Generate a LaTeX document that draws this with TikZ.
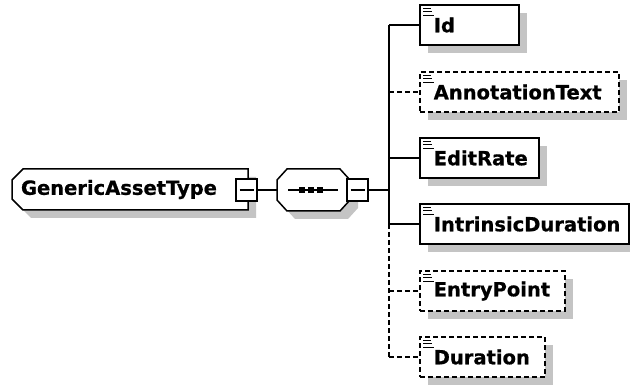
\documentclass[tikz,border=0pt]{standalone}
\usepackage{fontspec}
\setmainfont{DejaVu Sans}[BoldFeatures={FakeBold=0.8}]
\usetikzlibrary{calc,shadows}
\definecolor{shadowgray}{RGB}{196,196,196}
\tikzset{
  lbl/.style={font=\bfseries\fontsize{19.5}{22}\selectfont},
  outline/.style={draw=black, line width=1.5pt},
  elem/.style={outline, fill=white, anchor=west, minimum height=40pt,
    inner xsep=0pt, inner ysep=0pt, text width=#1pt, align=left, lbl,
    copy shadow={shadow xshift=8pt, shadow yshift=-8pt, fill=shadowgray, draw=none}},
  optbox/.style={elem=#1, dash pattern=on 5pt off 3pt},
  minusbox/.style={outline, fill=white, minimum width=21pt, minimum height=22pt, inner sep=0pt,
    path picture={\draw[line width=1.5pt] ([xshift=3.5pt]path picture bounding box.west) -- ([xshift=-3.5pt]path picture bounding box.east);}},
  conn/.style={line width=1.5pt},
  optconn/.style={conn, dash pattern=on 5pt off 3pt},
}
\newcommand\elicon[1]{%
  \draw[line width=1.3pt] ([shift={(4,4)}]#1.north west) -- +(8,0)
    ([shift={(4,7.5)}]#1.north west) -- +(9,0)
    ([shift={(4,11)}]#1.north west) -- +(11,0);}
\begin{document}
\begin{tikzpicture}[x=1pt, y=-1pt]
\useasboundingbox[fill=white] (0,0) rectangle (630,385);
% GenericAssetType shape
\fill[shadowgray] (31,177) -- (256,177) -- (256,218) -- (31,218) -- (20,207) -- (20,188) -- cycle;
\draw[outline, fill=white] (23,169) -- (248,169) -- (248,210) -- (23,210) -- (12,199) -- (12,180) -- cycle;
\node[lbl, inner sep=0pt, text width=236pt, align=left, minimum height=41pt] (gat) at (130,189.5) {\hspace*{9pt}GenericAssetType};
% sequence shape
\fill[shadowgray] (295,177) -- (348,177) -- (358,188) -- (358,208) -- (348,219) -- (295,219) -- (285,208) -- (285,188) -- cycle;
\draw[outline, fill=white] (287,169) -- (340,169) -- (350,180) -- (350,200) -- (340,211) -- (287,211) -- (277,200) -- (277,180) -- cycle;
\node[minimum width=73pt, minimum height=42pt, inner sep=0pt] (seq) at (313.5,190) {};
\draw[conn] (288,190) -- (338,190);
\foreach \cx in {302,311,320} \fill (\cx-3,187) rectangle (\cx+3,193);
% minus boxes
\node[minusbox] (m1) at (246.5,190) {};
\node[minusbox] (m2) at (357.5,190) {};
\coordinate (bus) at (389,190);
\draw[conn] (m1.east) -- (seq.west);
\draw[conn] (m2.east) -- (bus);
% elements
\node[elem=99] (id) at (419,25) {\hspace*{14pt}Id};
\node[optbox=199] (annot) at (419,92) {\hspace*{14pt}AnnotationText};
\node[elem=119] (edit) at (419,158) {\hspace*{14pt}EditRate};
\node[elem=209] (intr) at (419,224) {\hspace*{14pt}IntrinsicDuration};
\node[optbox=145] (entry) at (419,291) {\hspace*{14pt}EntryPoint};
\node[optbox=125] (dur) at (419,357) {\hspace*{14pt}Duration};
\foreach \n in {id,annot,edit,intr,entry,dur} {\elicon{\n}}
% bus and connectors
\draw[conn] (bus |- id.west) -- (bus |- intr.west);
\draw[optconn] (bus |- intr.west) -- (bus |- dur.west);
\draw[conn] (bus |- id.west) -- (id.west);
\draw[optconn] (bus |- annot.west) -- (annot.west);
\draw[conn] (bus |- edit.west) -- (edit.west);
\draw[conn] (bus |- intr.west) -- (intr.west);
\draw[optconn] (bus |- entry.west) -- (entry.west);
\draw[optconn] (bus |- dur.west) -- (dur.west);
\end{tikzpicture}
\end{document}
